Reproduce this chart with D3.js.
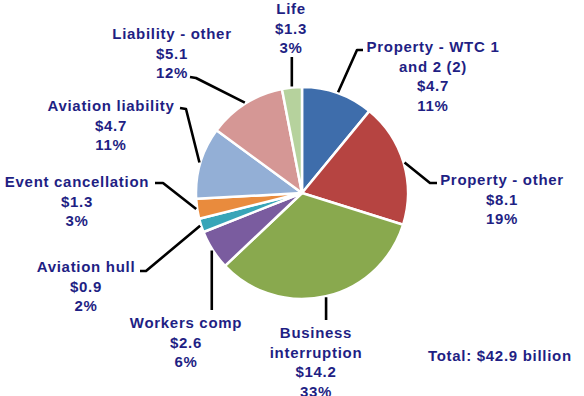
<!DOCTYPE html>
<html>
<head>
<meta charset="utf-8">
<script src="https://cdn.jsdelivr.net/npm/d3@7"></script>
<style>
  body { margin: 0; background: #fff; }
  svg { display: block; }
  text { font-family: "Liberation Sans", Arial, sans-serif; font-weight: bold; font-size: 15px; fill: #1f1f84; letter-spacing: 0.7px; }
</style>
</head>
<body>
<div id="chart"></div>
<script>
// insured losses by line, $ billions
const categories = ["Property - WTC 1 and 2 (2)", "Property - other", "Business interruption", "Workers comp",
  "Aviation hull", "Event cancellation", "Aviation liability", "Liability - other", "Life"];
const values = [4.7, 8.1, 14.2, 2.6, 0.9, 1.3, 4.7, 5.1, 1.3];
const percents = ["11%", "19%", "33%", "6%", "2%", "3%", "11%", "12%", "3%"];
const labelLines = [
  ["Property - WTC 1", "and 2 (2)"], ["Property - other"], ["Business", "interruption"], ["Workers comp"],
  ["Aviation hull"], ["Event cancellation"], ["Aviation liability"], ["Liability - other"], ["Life"]
];
const colors = ["#3e6dab", "#b64441", "#89a94e", "#7a5c9f", "#38a5b8", "#e98b3d", "#93afd6", "#d59795", "#b6d29d"];
const totalLabel = "Total: $42.9 billion";

const width = 584, height = 396;
const cx = 302, cy = 193, radius = 106;
const lineH = 19.6;

// label anchors (centre x, first baseline) and leader elbows
const labelPos = [[433, 52], [502, 185], [316, 338], [186, 328], [86, 272], [77, 187], [111, 111], [172, 39], [291, 14]];
const leaderPts = [
  [[357, 50], [363, 50]],
  [[430, 183], [437, 183]],
  [[null, 320]],
  [[null, 310]],
  [[146, 271], [140, 271]],
  [[163, 183], [155, 183]],
  [[186, 109], [180, 108]],
  [[196, 78], [190, 77]],
  [[null, 57]]
];

const svg = d3.select("#chart").append("svg")
  .attr("width", width)
  .attr("height", height);

const data = categories.map((c, i) => ({ name: c, value: values[i], i: i }));

const pie = d3.pie().sort(null).value(d => d.value);
const arcs = pie(data);
const arc = d3.arc().innerRadius(0).outerRadius(radius);

const g = svg.append("g").attr("transform", `translate(${cx},${cy})`);

g.selectAll("path.slice")
  .data(arcs)
  .enter()
  .append("path")
  .attr("class", "slice")
  .attr("d", arc)
  .attr("fill", d => colors[d.data.i])
  .attr("stroke", "#fff")
  .attr("stroke-width", 2.5)
  .attr("stroke-linejoin", "round");

// leader lines
arcs.forEach(a => {
  const i = a.data.i;
  const mid = (a.startAngle + a.endAngle) / 2;
  const r0 = radius + 1;
  const p0 = [cx + r0 * Math.sin(mid), cy - r0 * Math.cos(mid)];
  const pts = [p0].concat(leaderPts[i].map(p => [p[0] === null ? p0[0] : p[0], p[1]]));
  svg.append("path")
    .attr("d", d3.line()(pts))
    .attr("fill", "none")
    .attr("stroke", "#000")
    .attr("stroke-width", 2.6)
    .attr("stroke-linejoin", "round");
});

// labels
arcs.forEach(a => {
  const i = a.data.i;
  const lines = labelLines[i].concat(["$" + values[i].toFixed(1), percents[i]]);
  const t = svg.append("text")
    .attr("text-anchor", "middle")
    .attr("x", labelPos[i][0])
    .attr("y", labelPos[i][1]);
  lines.forEach((l, k) => {
    t.append("tspan")
      .attr("x", labelPos[i][0])
      .attr("y", labelPos[i][1] + k * lineH)
      .text(l);
  });
});

svg.append("text")
  .attr("x", 428)
  .attr("y", 361)
  .text(totalLabel);
</script>
</body>
</html>
